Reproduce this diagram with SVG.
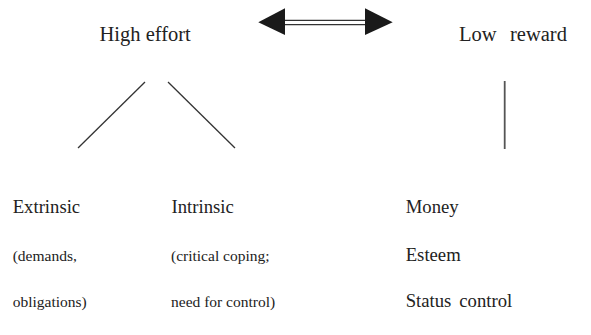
<svg xmlns="http://www.w3.org/2000/svg" width="591" height="335" viewBox="0 0 591 335">
<style>
text{font-family:'Liberation Serif', 'DejaVu Serif', serif;fill:#222;}
.h{font-size:20.5px;}
.m{font-size:18.7px;}
.s{font-size:15.5px;}
.ln{stroke:#333;stroke-width:1.3;fill:none;}
</style>
<rect width="591" height="335" fill="#fff"/>
<g id="high-effort"><text class="h" x="99.5" y="41">High effort</text></g>
<g id="low-reward"><text class="h" x="459" y="41">Low</text><text class="h" x="510" y="41">reward</text></g>
<g id="extrinsic"><text class="m" x="12.7" y="213">Extrinsic</text><text class="s" x="12.7" y="261">(demands,</text><text class="s" x="12.7" y="307">obligations)</text></g>
<g id="intrinsic"><text class="m" x="171.5" y="213">Intrinsic</text><text class="s" x="171" y="261">(critical coping;</text><text class="s" x="171" y="307">need for control)</text></g>
<g id="reward-items"><text class="m" x="405.7" y="213">Money</text><text class="m" x="405.7" y="261">Esteem</text><text class="m" x="405.7" y="307">Status</text><text class="m" x="459.3" y="307">control</text></g>
<g id="connectors">
<line class="ln" x1="145" y1="82" x2="78" y2="148"/>
<line class="ln" x1="168" y1="82" x2="235" y2="148"/>
<line x1="504.7" y1="81" x2="504.7" y2="149" stroke="#555" stroke-width="1.8"/>
<line class="ln" x1="284" y1="20.3" x2="366" y2="20.3"/>
<line class="ln" x1="284" y1="24.7" x2="366" y2="24.7"/>
<polygon points="258.3,22.3 285,8.3 285,35" fill="#1a1a1a"/>
<polygon points="392.7,22.3 365,8.3 365,35" fill="#1a1a1a"/>
</g>
</svg>
